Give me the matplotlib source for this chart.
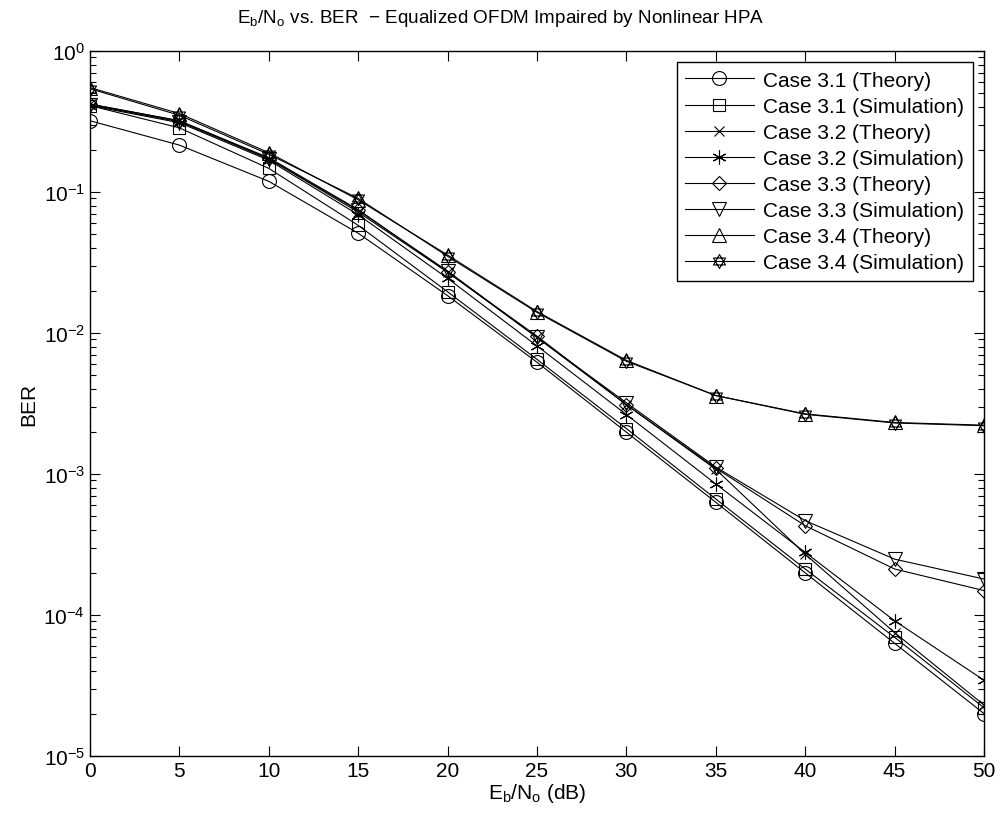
import matplotlib
matplotlib.use("Agg")
import matplotlib.pyplot as plt
from matplotlib.path import Path
from matplotlib.ticker import LogLocator, NullFormatter
import numpy as np

plt.rcParams['font.family'] = ['Liberation Sans', 'DejaVu Sans']
plt.rcParams['mathtext.fontset'] = 'custom'
plt.rcParams['mathtext.rm'] = 'Liberation Sans'
plt.rcParams['mathtext.it'] = 'Liberation Sans:italic'
plt.rcParams['mathtext.default'] = 'regular'

# Eb/No grid (dB)
ebno = [0, 5, 10, 15, 20, 25, 30, 35, 40, 45, 50]

# BER curves
ber_31_theory = [0.32, 0.215, 0.119, 0.051, 0.0184, 0.0062, 0.00198, 0.00063, 0.000199, 6.3e-5, 2.0e-5]
ber_31_sim = [0.41, 0.285, 0.147, 0.058, 0.0196, 0.0065, 0.0021, 0.000665, 0.000212, 6.95e-5, 2.2e-5]
ber_32_theory = [0.42, 0.32, 0.172, 0.072, 0.027, 0.0093, 0.0031, 0.00108, 0.00027, 7.5e-5, 2.3e-5]
ber_32_sim = [0.41, 0.31, 0.168, 0.069, 0.0244, 0.0081, 0.00264, 0.00085, 0.000278, 9.1e-5, 3.45e-5]
ber_33_theory = [0.42, 0.32, 0.175, 0.075, 0.027, 0.0095, 0.0031, 0.0011, 0.00043, 0.000212, 0.000149]
ber_33_sim = [0.415, 0.315, 0.172, 0.074, 0.0275, 0.0093, 0.0032, 0.00112, 0.000467, 0.000249, 0.00018]
ber_34_theory = [0.55, 0.36, 0.19, 0.088, 0.0357, 0.0142, 0.0064, 0.0036, 0.00267, 0.00232, 0.00222]
ber_34_sim = [0.54, 0.35, 0.185, 0.09, 0.035, 0.014, 0.0063, 0.0036, 0.00265, 0.0023, 0.0022]

labels = ["Case 3.1 (Theory)", "Case 3.1 (Simulation)",
          "Case 3.2 (Theory)", "Case 3.2 (Simulation)",
          "Case 3.3 (Theory)", "Case 3.3 (Simulation)",
          "Case 3.4 (Theory)", "Case 3.4 (Simulation)"]

# Six-pointed star (hexagram) built from two overlapping triangles
ang_up = np.deg2rad([90, 210, 330])
ang_dn = np.deg2rad([270, 30, 150])
verts = ([(np.cos(a), np.sin(a)) for a in ang_up] + [(0, 0)] +
         [(np.cos(a), np.sin(a)) for a in ang_dn] + [(0, 0)])
codes = ([Path.MOVETO, Path.LINETO, Path.LINETO, Path.CLOSEPOLY] * 2)
hexagram = Path(verts, codes)

markers = ['o', 's', 'x', (6, 2, 0), 'D', 'v', '^', hexagram]
sizes = [10, 8, 7, 10, 7, 10, 10, 10]
series = [ber_31_theory, ber_31_sim, ber_32_theory, ber_32_sim,
          ber_33_theory, ber_33_sim, ber_34_theory, ber_34_sim]

FS = 15

fig = plt.figure(figsize=(10, 8.2), dpi=100)
ax = fig.add_axes([0.09, 0.0768, 0.894, 0.8598])

for y, m, s, lab in zip(series, markers, sizes, labels):
    ax.semilogy(ebno, y, color='black', linewidth=0.8, marker=m,
                markersize=s, markerfacecolor='none', markeredgecolor='black',
                markeredgewidth=0.8, label=lab)

ax.set_xlim(0, 50)
ax.set_ylim(1e-5, 1)
ax.set_xticks(ebno)
ax.yaxis.set_major_locator(LogLocator(base=10, numticks=10))
ax.yaxis.set_minor_locator(LogLocator(base=10, subs=np.arange(2, 10), numticks=20))
ax.yaxis.set_minor_formatter(NullFormatter())
ax.tick_params(which='both', direction='in', top=True, right=True,
               labelsize=FS, width=0.8)
ax.tick_params(which='major', length=7)
ax.tick_params(which='minor', length=4)
for sp in ax.spines.values():
    sp.set_linewidth(1.0)

ax.set_xlabel(r'E$_{b}$/N$_{o}$ (dB)', fontsize=FS, labelpad=1)
ax.set_ylabel('BER', fontsize=FS, labelpad=4)
ax.set_title(r'E$_{b}$/N$_{o}$ vs. BER  $-$ Equalized OFDM Impaired by Nonlinear HPA',
             fontsize=13.6, pad=21, x=0.459)

leg = ax.legend(loc='upper right', fontsize=FS, handlelength=3.3,
                borderaxespad=0.55, fancybox=False, framealpha=1,
                edgecolor='black', labelspacing=0.34, borderpad=0.4,
                handletextpad=0.45)
leg.get_frame().set_linewidth(1.0)

fig.savefig('out.png', dpi=100)
